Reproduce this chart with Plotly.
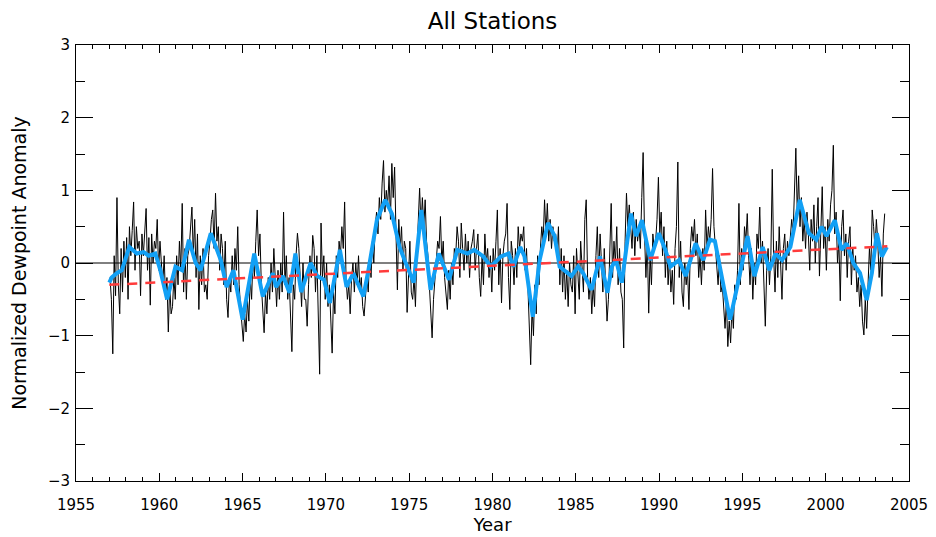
import plotly.graph_objects as go

# Monthly normalized dewpoint anomaly, Jan 1957 .. Jul 2003 (rows = years of reading)
start_year = 1957
start_month = 1
monthly = [
    -0.2, -0.5, -1.25, 0.1, -0.45, 0.9, -0.3, -0.7, 0.2,
    -0.4, 0.3, -0.2, 0.35, -0.5, 0.5, 0.1, 0.45, 0.84, -0.1, 0.5, 0.2,
    0.3, -0.45, 0.4, 0.1, 0.5, 0.75, -0.1, 0.35, -0.58, 0.4, 0.0, 0.3,
    0.2, 0.6, -0.1, 0.3, 0.0, -0.3, 0.1, -0.5, -0.2, -0.95, -0.3, -0.7,
    -0.6, -0.2, -0.5, 0.1, -0.3, 0.3, -0.1, 0.82, -0.4, 0.2, -0.5, 0.1,
    0.2, 0.5, 0.77, 0.1, 0.6, -0.2, 0.4, -0.64, 0.1, -0.3, 0.2, -0.4,
    -0.3, -0.5, 0.1, 0.3, 0.6, 0.73, 0.2, 0.96, 0.3, 0.5, -0.1, 0.4,
    0.2, -0.3, 0.3, -0.5, -0.75, -0.2, -0.4, 0.1, -0.3, 0.2, -0.1, 0.5,
    -0.3, -0.6, -0.9, -1.08, -0.7, -0.95, -0.5, -0.8, -0.2, -0.5, 0.1, -0.2,
    0.3, 0.73, 0.1, 0.4, -0.3, -0.6, -0.96, -0.4, -0.7, -0.2, -0.5, 0.0,
    -0.4, 0.2, -0.3, -0.6, -0.1, -0.5, 0.0, -0.4, 0.7, -0.3, 0.1, -0.5,
    -0.2, -0.8, -1.22, -0.3, -0.5, 0.1, 0.41, 0.2, -0.2, -0.6, 0.0, -0.5,
    -0.5, -0.87, -0.3, 0.1, -0.2, 0.38, 0.2, -0.4, 0.1, -0.6, -1.53, 0.55,
    -0.2, 0.1, -0.5, 0.0, -0.6, -0.3, -0.9, -1.24, -0.4, -0.7, 0.1, -0.2,
    0.3, 0.1, 0.5, 0.2, 0.84, -0.2, -0.5, -0.3, -0.7, -0.2, 0.0, -0.4,
    0.0, -0.3, 0.1, -0.4, -0.2, -0.6, -0.73, -0.5, -0.2, -0.4, 0.1, -0.2,
    0.3, 0.0, 0.5, 0.7, 0.4, 0.9, 0.6, 1.1, 1.41, 0.7, 1.0, 0.8,
    1.2, 0.6, 1.37, 0.9, 1.32, 0.4, -0.37, 0.6, 0.2, 0.5, -0.1, 0.3,
    0.2, -0.68, -0.1, 0.3, -0.4, -0.5, -0.2, -0.6, 0.1, 0.6, 1.03, 0.5,
    0.9, 0.5, 0.87, 0.3, 0.1, -0.3, -0.6, -1.03, -0.5, -0.2, 0.0, 0.3,
    0.2, 0.64, 0.0, 0.3, -0.2, -0.4, -0.64, -0.1, -0.5, 0.0, -0.3, 0.2,
    0.1, 0.5, 0.3, -0.2, 0.55, 0.2, -0.1, 0.4, 0.0, 0.3, -0.2, 0.2,
    0.3, 0.46, -0.1, 0.2, 0.4, -0.2, -0.46, 0.1, -0.3, 0.4, 0.0, 0.2,
    -0.2, 0.1, -0.4, 0.2, -0.1, 0.3, 0.73, -0.3, 0.2, -0.55, 0.1, 0.3,
    0.4, 0.82, -0.2, -0.64, 0.3, 0.1, -0.3, 0.2, -0.2, 0.5, 0.2, 0.4,
    0.3, 0.5, -0.1, 0.2, -0.4, -0.8, -1.4, -0.6, -1.0, -0.3, -0.7, 0.1,
    -0.3, 0.2, 0.5, 0.3, 0.87, 0.4, 0.82, 0.3, 0.6, 0.2, 0.5, 0.3,
    0.4, 0.1, 0.5, -0.3, 0.2, -0.4, 0.1, -0.5, -0.1, -0.6, 0.0, -0.3,
    -0.4, 0.1, -0.7, 0.2, -0.2, -0.5, 0.3, -0.1, -0.4, 0.6, 0.87, -0.2,
    -0.5, -0.2, -0.7, -0.3, -0.6, 0.1, 0.5, -0.2, 0.4, 0.0, -0.4, 0.2,
    -0.3, -0.8, -0.5, 0.1, 0.82, -0.2, 0.3, 0.0, 0.5, -0.3, 0.2, -0.4,
    -0.5, -1.17, 0.3, 0.96, 0.5, 0.8, 0.4, 0.2, 0.7, 0.1, 0.6, 0.3,
    0.5, 0.2, 0.9, 1.52, 0.4, -0.2, 0.3, -0.69, 0.1, -0.3, 0.4, 0.2,
    0.3, 0.6, 1.18, 0.4, 0.7, 0.1, 0.5, -0.2, 0.3, -0.3, 0.1, -0.4,
    -0.1, -0.57, 0.2, 0.5, 1.39, -0.2, 0.3, -0.4, -0.6, 0.0, -0.3, -0.1,
    -0.64, 0.2, 0.5, 0.3, 0.6, 0.1, 0.4, -0.2, 0.1, -0.3, 0.2, -0.1,
    0.73, 0.2, 0.5, 0.3, 0.6, 1.3, 0.5, 0.2, 0.0, -0.3, 0.1, -0.4,
    -0.3, -0.6, -0.9, -0.5, -1.15, -0.8, -1.1, -0.6, -0.9, -0.3, -0.5, -0.1,
    0.82, -0.3, 0.2, -0.1, 0.5, 0.3, 0.68, 0.1, -0.3, 0.2, -0.5, 0.0,
    -0.3, 0.4, 0.2, 0.77, 0.0, 0.3, -0.4, -0.87, -0.1, 0.2, -0.3, 0.1,
    1.29, 0.1, -0.4, 0.3, -0.2, 0.5, 0.0, -0.5, 0.2, 0.4, -0.1, 0.3,
    0.1, 0.3, 0.6, 0.4, 1.0, 1.58, 0.7, 1.2, 0.5, 0.9, 0.3, 0.6,
    0.2, 0.7, 0.4, -0.1, 0.6, 0.3, 0.8, 0.0, 0.5, 0.9, -0.18, 0.6,
    1.05, 0.2, 0.5, -0.1, 0.6, 0.3, 0.8, 1.0, 1.62, 0.4, 0.7, 0.0,
    0.3, -0.52, 0.5, 0.73, 0.1, 0.4, -0.2, 0.3, 0.5, -0.3, 0.2, -0.1,
    0.1, -0.4, -0.2, -0.6, -0.3, -0.8, -0.99, -0.5, -0.9, -0.3, 0.2, -0.1,
    0.73, 0.5, 0.2, 0.6, 0.3, -0.2, 0.1, -0.46, 0.4, 0.68,
]

# Smoothed (running mean) curve, read at key points
smooth_year = [1957.0, 1957.14, 1957.45, 1957.75, 1958.2, 1958.65, 1959.06, 1959.36, 1959.76,
               1960.06, 1960.47, 1960.97, 1961.37, 1961.78, 1962.18, 1962.48, 1963.09, 1963.69,
               1964.04, 1964.45, 1965.0, 1965.7, 1966.21, 1966.81, 1967.01, 1967.42, 1967.82,
               1968.17, 1968.52, 1969.08, 1969.48, 1969.88, 1970.24, 1970.84, 1971.24, 1971.65,
               1972.25, 1972.55, 1973.06, 1973.56, 1973.96, 1974.42, 1974.72, 1975.27, 1975.73,
               1976.28, 1976.78, 1977.39, 1977.89, 1978.5, 1978.9, 1979.45, 1979.9, 1980.51,
               1980.96, 1981.26, 1981.67, 1981.92, 1982.42, 1982.83, 1983.33, 1983.73, 1984.03,
               1984.74, 1985.14, 1985.44, 1985.95, 1986.45, 1986.9, 1987.16, 1987.41, 1987.76,
               1988.31, 1988.62, 1988.97, 1989.47, 1989.98, 1990.38, 1990.68, 1991.19, 1991.59,
               1992.19, 1992.65, 1993.05, 1993.35, 1993.65, 1994.26, 1994.86, 1995.31, 1995.72,
               1996.22, 1996.62, 1996.98, 1997.38, 1997.88, 1998.44, 1998.99, 1999.44, 1999.75,
               2000.05, 2000.55, 2000.95, 2001.26, 2001.66, 2002.06, 2002.46, 2002.77, 2003.07,
               2003.37, 2003.67]
smooth_value = [-0.27, -0.2, -0.14, -0.1, 0.22, 0.13, 0.15, 0.1, 0.13,
                -0.1, -0.5, -0.05, -0.1, 0.32, 0.0, -0.1, 0.41, 0.04,
                -0.33, -0.1, -0.78, 0.13, -0.46, -0.14, -0.33, -0.18, -0.41,
                0.13, -0.4, 0.0, -0.18, -0.23, -0.55, 0.18, -0.33, -0.14,
                -0.46, -0.1, 0.59, 0.87, 0.68, 0.22, 0.04, -0.27, 0.73,
                -0.37, 0.13, -0.23, 0.18, 0.13, 0.18, 0.09, -0.05, 0.09,
                0.13, -0.05, 0.22, 0.09, -0.74, 0.04, 0.55, 0.37, -0.05,
                -0.18, -0.05, -0.14, -0.37, 0.09, -0.41, -0.05, 0.04, -0.27,
                0.68, 0.37, 0.59, 0.04, 0.41, 0.18, -0.05, 0.04, -0.18,
                0.27, 0.04, 0.32, 0.3, -0.05, -0.78, -0.14, 0.37, -0.18,
                0.22, -0.1, 0.13, 0.04, 0.22, 0.87, 0.41, 0.32, 0.5,
                0.37, 0.59, 0.18, 0.27, 0.0, -0.14, -0.51, -0.14, 0.41,
                0.09, 0.22]

# Linear trend end points
trend_year = [1957.0, 2003.7]
trend_value = [-0.30, 0.23]

month_year = [start_year + (start_month - 1 + i + 0.5) / 12.0 for i in range(len(monthly))]

fig = go.Figure()
fig.add_trace(go.Scatter(x=month_year, y=monthly, mode="lines",
                         line=dict(color="black", width=1), showlegend=False))
fig.add_trace(go.Scatter(x=smooth_year, y=smooth_value, mode="lines",
                         line=dict(color="#12A0F5", width=4), showlegend=False))
fig.add_trace(go.Scatter(x=trend_year, y=trend_value, mode="lines",
                         line=dict(color="#FF3B3B", width=2.5, dash="10px,8px"),
                         showlegend=False))

font_family = "DejaVu Sans, sans-serif"
axis_common = dict(showline=True, linecolor="black", linewidth=1, mirror="allticks",
                   ticks="inside", tickcolor="black", showgrid=False, zeroline=False,
                   automargin=False, ticklabeloverflow="allow",
                   tickfont=dict(size=15, color="black", family=font_family))

# The page body has an 8px margin, so the figure is offset by 8px.
fig.update_layout(
    width=928, height=529,
    margin=dict(l=68, r=27, t=37, b=56),
    plot_bgcolor="white", paper_bgcolor="white",
    title=dict(text="All Stations", x=0.5, xanchor="center", xref="paper",
               y=1 - 13 / 529, yanchor="middle", yref="container",
               font=dict(size=23, color="black", family=font_family)),
    xaxis=dict(range=[1955, 2005], tickmode="linear", tick0=1955, dtick=5, ticklen=8,
               minor=dict(dtick=1, ticklen=4, ticks="inside", tickcolor="black"),
               title=dict(text="Year", font=dict(size=18, color="black", family=font_family),
                          standoff=4),
               ticklabelstandoff=10,
               **axis_common),
    yaxis=dict(range=[-3, 3], tickmode="linear", tick0=-3, dtick=1, ticklen=17,
               minor=dict(dtick=0.5, ticklen=9, ticks="inside", tickcolor="black"),
               title=dict(text="Normalized Dewpoint Anomaly",
                          font=dict(size=19, color="black", family=font_family),
                          standoff=16),
               ticklabelstandoff=2,
               **axis_common),
    shapes=[dict(type="line", xref="paper", x0=0, x1=1, yref="y", y0=0, y1=0,
                 line=dict(color="black", width=1), layer="below")],
)

fig.write_html("out.html")
